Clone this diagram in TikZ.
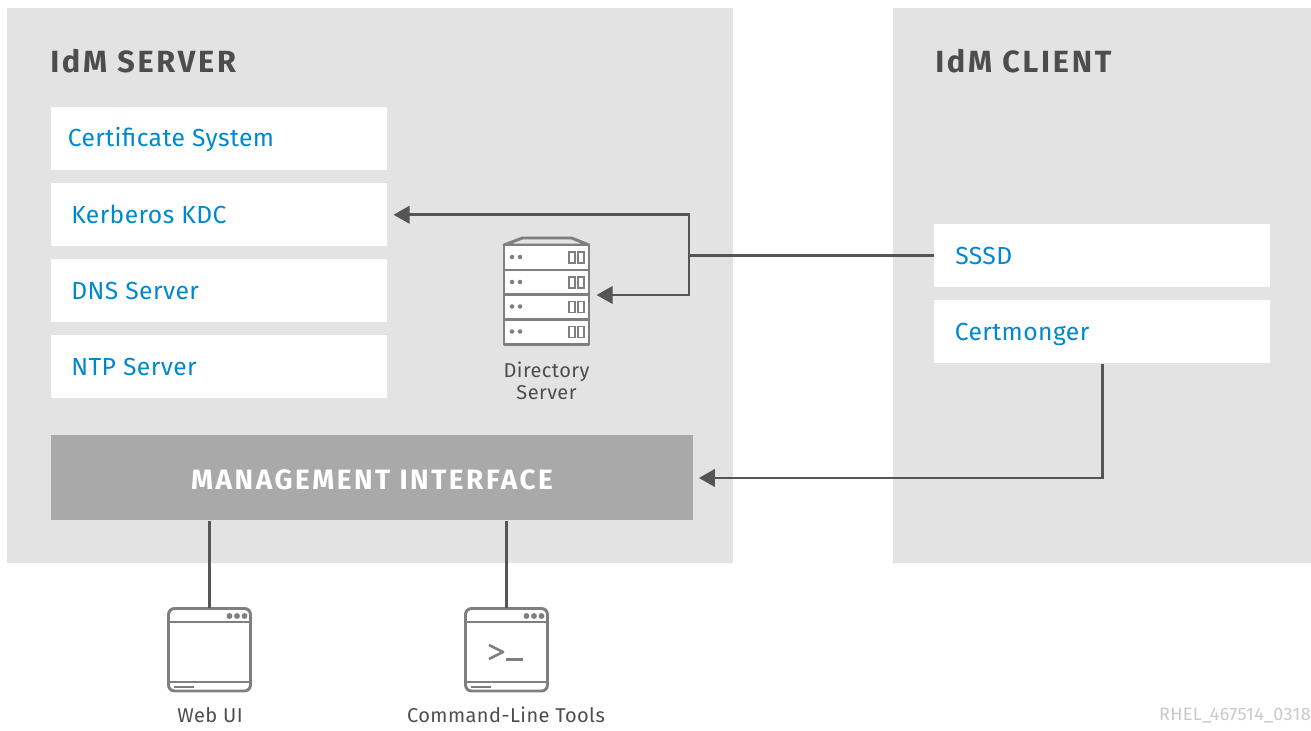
\documentclass[tikz,border=0pt]{standalone}
\usepackage{fontspec}
\setmainfont{Fira Sans}
\newfontfamily\headfont[LetterSpace=9]{Fira Sans}
\newfontfamily\lblfont[LetterSpace=1.8]{Fira Sans}
\newfontfamily\capfont[LetterSpace=2.2]{Fira Sans}
\usetikzlibrary{arrows.meta}
\definecolor{panel}{HTML}{E3E3E3}
\definecolor{mgmt}{HTML}{A9A9A9}
\definecolor{ink}{HTML}{4D4D4D}
\definecolor{blue}{HTML}{0088CE}
\definecolor{wire}{HTML}{555555}
\definecolor{icon}{HTML}{7F7F7F}
\definecolor{faint}{HTML}{C9C9C9}
\tikzset{
  x=0.75pt,y=-0.75pt,
  panelbox/.style={fill=panel,draw=none,inner sep=0pt,anchor=north west},
  whitebox/.style={fill=white,draw=none,inner sep=0pt,anchor=north west,minimum width=252pt,minimum height=47.25pt},
  mgmtbox/.style={fill=mgmt,draw=none,inner sep=0pt,anchor=north west,minimum height=63.75pt},
  head/.style={anchor=base west,inner sep=0pt,text=ink,font=\fontsize{23}{26}\selectfont\headfont\bfseries},
  lbl/.style={anchor=base west,inner sep=0pt,text=blue,font=\fontsize{18.5}{22}\selectfont\lblfont},
  captext/.style={inner sep=0pt,text=ink,align=center,font=\fontsize{15}{16.5}\selectfont\capfont},
  wirel/.style={draw=wire,line width=2pt},
  arrowl/.style={wirel,-{Triangle[length=12pt,width=13pt]}},
  ic/.style={draw=icon,line width=2.2pt,line join=round},
  icthin/.style={draw=icon,line width=1.3pt},
  ghost/.style={inner sep=0pt,draw=none,anchor=north west},
  windowicon/.pic={
    \draw[ic,fill=white,rounded corners=4.5pt] (1,1) rectangle (83,83.5);
    \draw[ic] (1,14.5) -- (83,14.5) (1,74.5) -- (83,74.5);
    \fill[icon] (62,8.5) circle (2.2pt) (69.5,8.5) circle (2.2pt) (77,8.5) circle (2.2pt);
    \draw[icthin] (6,79.5) -- (26,79.5);
  },
  rackrow/.pic={
    \fill[icon] (9,12) circle (1.7pt) (17,12) circle (1.7pt);
    \draw[icthin] (66,7) rectangle (72,18) (75,7) rectangle (81,18);
  },
}
\begin{document}
\begin{tikzpicture}
\useasboundingbox (0,0) rectangle (1311,731);
% panels
\node[panelbox,minimum width=544.5pt,minimum height=416.25pt] (srv) at (7,8) {};
\node[panelbox,minimum width=313.5pt,minimum height=416.25pt] (cli) at (893,8) {};
\node[head] (srvt) at (50,73) {IdM SERVER};
\node[head] (clit) at (935,73) {IdM CLIENT};
% white boxes
\node[whitebox] (cs) at (51,107) {};
\node[whitebox] (kdc) at (51,183) {};
\node[whitebox] (dns) at (51,259) {};
\node[whitebox] (ntp) at (51,335) {};
\node[whitebox] (sssd) at (934,224) {};
\node[whitebox] (cm) at (934,300) {};
\node[lbl] (cst) at (67.5,147) {Certificate System};
\node[lbl] (kdct) at (71,223.5) {Kerberos KDC};
\node[lbl] (dnst) at (71,299) {DNS Server};
\node[lbl] (ntpt) at (71,375) {NTP Server};
\node[lbl] (sssdt) at (955,264) {SSSD};
\node[lbl] (cmt) at (954.5,340) {Certmonger};
\node[mgmtbox,minimum width=481.5pt] (mi) at (51,435) {};
\node[text=white,inner sep=0pt,font=\fontsize{21}{24}\selectfont\headfont\bfseries] (mit) at (372,479.5) {MANAGEMENT INTERFACE};
% directory server icon
\node[ghost,minimum width=65.25pt,minimum height=80.25pt] (ds) at (503,238) {};
\begin{scope}[shift={(503,245)}]
  \draw[ic,fill=panel] (1,0) -- (19.5,-7) -- (68.5,-7) -- (86,0) -- cycle;
  \draw[ic,fill=white] (1,0) rectangle (86,99.5);
  \draw[ic] (1,25) -- (86,25) (1,49.5) -- (86,49.5) (1,74.5) -- (86,74.5);
  \pic at (0,0) {rackrow};
  \pic at (0,25) {rackrow};
  \pic at (0,49.5) {rackrow};
  \pic at (0,74.5) {rackrow};
\end{scope}
\node[captext] (dst) at (546.5,381) {Directory\\Server};
% windows
\node[ghost,minimum width=63.75pt,minimum height=63.4pt] (web) at (167,607.5) {};
\pic at (167.5,607.5) {windowicon};
\node[ghost,minimum width=63pt,minimum height=63.4pt] (cmd) at (464.5,607.5) {};
\pic at (464.5,607.5) {windowicon};
\draw[ic,line width=2pt] (489,645) -- (503,652) -- (489,659);
\draw[ic,line width=2pt] (506,659.5) -- (523,659.5);
\node[captext] (webt) at (210,715) {Web UI};
\node[captext] (cmdt) at (506,715) {Command-Line Tools};
\node[anchor=east,inner sep=0pt,text=faint,font=\fontsize{13.5}{15}\selectfont\capfont] (tag) at (1311,716) {RHEL\_467514\_0318};
% connectors
\coordinate (j) at (689,255.5);
\draw[wirel] (sssd.west |- j) -- (j);
\draw[arrowl,shorten >=4.5pt] (j) |- (kdc.east);
\draw[arrowl,shorten >=4.5pt] (j) |- (ds.east |- 0,295);
\coordinate (mientry) at (mi.east |- 0,478);
\draw[arrowl,shorten >=4pt] (cm.south) |- (mientry);
\draw[wirel] (mi.south -| web.north) -- (web.north);
\draw[wirel] (mi.south -| cmd.north) -- (cmd.north);
\end{tikzpicture}
\end{document}
